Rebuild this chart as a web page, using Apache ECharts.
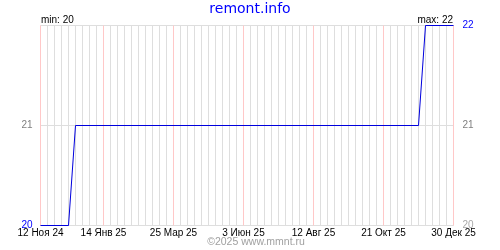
<!DOCTYPE html>
<html>
<head>
<meta charset="utf-8">
<script src="https://cdn.jsdelivr.net/npm/echarts@6/dist/echarts.min.js"></script>
<style>html,body{margin:0;padding:0;background:#fff}#c{width:500px;height:250px}</style>
</head>
<body>
<div id="c"></div>
<script>
const titleText = 'remont.info';
const footerText = '©2025 www.mmnt.ru';
const startDate = '2024-11-12';
const endDate = '2025-12-30';
const pointDates = ['2024-11-12', '2024-12-10', '2024-12-17', '2025-11-25', '2025-12-02', '2025-12-30'];
const pointValues = [20, 20, 21, 21, 22, 22];
const tickDates = ['2024-11-12', '2025-01-14', '2025-03-25', '2025-06-03', '2025-08-12', '2025-10-21', '2025-12-30'];
const tickLabels = ['12 Ноя 24', '14 Янв 25', '25 Мар 25', '3 Июн 25', '12 Авг 25', '21 Окт 25', '30 Дек 25'];
const yMin = 20, yMax = 22;
const minLabel = 'min: 20';
const maxLabel = 'max: 22';

const DAY = 86400000;
const d0 = Date.parse(startDate + 'T00:00:00Z');
const dayIdx = s => Math.round((Date.parse(s + 'T00:00:00Z') - d0) / DAY);
const xMax = dayIdx(endDate);
const tickDays = tickDates.map(dayIdx);
const seriesData = pointDates.map((d, i) => [dayIdx(d), pointValues[i]]);

const FONT = '"Liberation Sans", Arial, sans-serif';
const chart = echarts.init(document.getElementById('c'), null, {renderer: 'canvas'});
chart.setOption({
  animation: false,
  backgroundColor: '#ffffff',
  grid: {left: 40.5, right: 46.5, top: 25.5, bottom: 24.5, containLabel: false},
  xAxis: {
    type: 'value', min: 0, max: xMax, interval: 7,
    axisLine: {show: false}, axisTick: {show: false},
    splitLine: {show: true, lineStyle: {color: '#dedede', width: 1}},
    axisLabel: {
      show: true, margin: 3, color: '#000', fontFamily: FONT, fontSize: 10,
      showMinLabel: true, showMaxLabel: true,
      formatter: v => { const i = tickDays.indexOf(Math.round(v)); return i >= 0 ? tickLabels[i] : ''; }
    }
  },
  yAxis: [{
    type: 'value', min: yMin, max: yMax, interval: 1, position: 'left',
    axisLine: {show: false}, axisTick: {show: false},
    splitLine: {show: true, lineStyle: {color: '#dedede', width: 1}},
    axisLabel: {
      margin: 8, fontFamily: FONT, fontSize: 10,
      formatter: v => v === yMin ? '{b|' + v + '}' : (v === yMax ? '' : '{g|' + v + '}'),
      rich: {b: {color: '#0000ff', fontFamily: FONT, fontSize: 10}, g: {color: '#808080', fontFamily: FONT, fontSize: 10}}
    }
  }, {
    type: 'value', min: yMin, max: yMax, interval: 1, position: 'right',
    axisLine: {show: false}, axisTick: {show: false}, splitLine: {show: false},
    axisLabel: {
      margin: 9, fontFamily: FONT, fontSize: 10,
      formatter: v => v === yMax ? '{b|' + v + '}' : (v === yMin ? '{l|' + v + '}' : '{g|' + v + '}'),
      rich: {b: {color: '#0000ff', fontFamily: FONT, fontSize: 10}, g: {color: '#808080', fontFamily: FONT, fontSize: 10}, l: {color: '#a8a8a8', fontFamily: FONT, fontSize: 10}}
    }
  }],
  series: [{
    type: 'line', data: [], z: 1, silent: true,
    markLine: {
      silent: true, symbol: 'none', label: {show: false}, animation: false,
      lineStyle: {color: '#ffc8c8', type: 'solid', width: 1},
      data: tickDays.map(d => ({xAxis: d}))
    }
  }, {
    type: 'line', data: seriesData, z: 5, showSymbol: false, symbol: 'none',
    lineStyle: {color: '#0000dd', width: 1}
  }],
  graphic: [
    {type: 'text', left: 'center', top: 2, style: {text: titleText, fill: '#0000ff', font: '14px "DejaVu Sans", Verdana, sans-serif'}},
    {type: 'text', x: 41, y: 20, style: {text: minLabel, fill: '#000', font: '10px ' + FONT, textAlign: 'left', textVerticalAlign: 'middle'}},
    {type: 'text', x: 453, y: 20, style: {text: maxLabel, fill: '#000', font: '10px ' + FONT, textAlign: 'right', textVerticalAlign: 'middle'}},
    {type: 'text', x: 256, y: 242, style: {text: footerText, fill: '#a0a0a0', font: '10.5px ' + FONT, textAlign: 'center', textVerticalAlign: 'middle'}}
  ]
});
</script>
</body>
</html>
